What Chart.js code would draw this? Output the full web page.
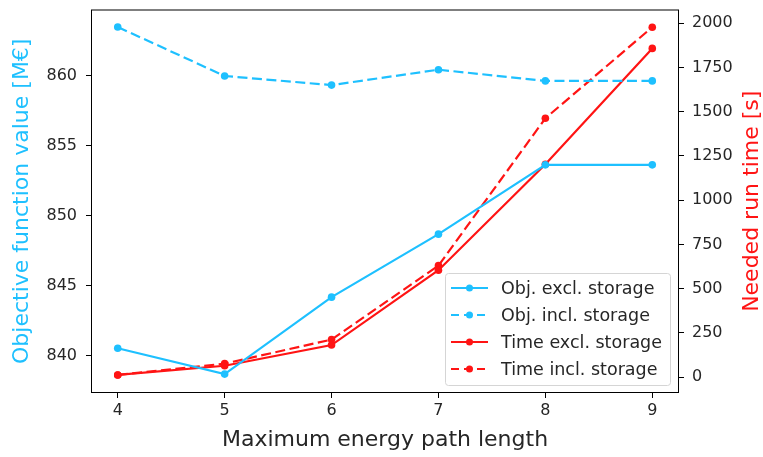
<!DOCTYPE html>
<html>
<head>
<meta charset="utf-8">
<script src="https://cdn.jsdelivr.net/npm/chart.js@4/dist/chart.umd.min.js"></script>
<style>
  html, body { margin: 0; padding: 0; background: #fff; }
  #wrap { width: 763px; height: 457px; }
</style>
</head>
<body>
<div id="wrap"><canvas id="chart" width="763" height="457"></canvas></div>
<script>
// data
var pathLengths = [4, 5, 6, 7, 8, 9];
var objExcl = [840.55, 838.7, 844.2, 848.7, 853.65, 853.65];
var objIncl = [863.5, 860.0, 859.35, 860.45, 859.65, 859.65];
var timeExcl = [12, 64, 181, 604, 1203, 1858];
var timeIncl = [12, 76, 212, 630, 1463, 1978];
var seriesLabels = ['Obj. excl. storage', 'Obj. incl. storage', 'Time excl. storage', 'Time incl. storage'];

var CYAN = '#1ec0ff';
var RED = '#ff1414';
var FONT = "'DejaVu Sans', sans-serif";

function pts(ys) {
    return pathLengths.map(function (x, i) { return { x: x, y: ys[i] }; });
}

function mkSet(label, ys, color, dashed, axis) {
    return {
        label: label,
        data: pts(ys),
        yAxisID: axis,
        borderColor: color,
        backgroundColor: color,
        borderWidth: 2.2,
        borderDash: dashed ? [10, 4.5] : [],
        pointRadius: 3.8,
        pointBorderWidth: 0,
        pointStyle: 'circle',
        tension: 0,
        fill: false
    };
}

// frame around plot, right axis title (bottom-to-top) and legend inside the plot
var decorPlugin = {
    id: 'decor',
    afterDraw: function (chart) {
        var ctx = chart.ctx, a = chart.chartArea;
        ctx.save();
        ctx.strokeStyle = '#000';
        ctx.lineWidth = 1;
        ctx.strokeRect(a.left + 0.5, a.top + 0.5, a.right - a.left - 1, a.bottom - a.top - 1);

        // right axis title
        ctx.fillStyle = RED;
        ctx.font = '22px ' + FONT;
        ctx.textAlign = 'center';
        ctx.textBaseline = 'middle';
        ctx.translate(752, (a.top + a.bottom) / 2);
        ctx.rotate(-Math.PI / 2);
        ctx.fillText('Needed run time [s]', 0, 0);
        ctx.restore();

        // legend
        var ds = chart.data.datasets;
        var bw = 225, bh = 112;
        var bx = a.right - 9 - bw, by = a.bottom - 8 - bh;
        ctx.save();
        ctx.fillStyle = 'rgba(255,255,255,0.85)';
        ctx.strokeStyle = '#d5d5d5';
        ctx.lineWidth = 1;
        ctx.beginPath();
        ctx.roundRect(bx + 0.5, by + 0.5, bw, bh, 3);
        ctx.fill();
        ctx.stroke();
        ctx.font = '17.5px ' + FONT;
        ctx.textAlign = 'left';
        ctx.textBaseline = 'middle';
        for (var i = 0; i < ds.length; i++) {
            var cy = by + 15 + i * 27;
            ctx.strokeStyle = ds[i].borderColor;
            ctx.lineWidth = 2.2;
            ctx.setLineDash(dsDash(ds[i]));
            ctx.beginPath();
            ctx.moveTo(bx + 6, cy);
            ctx.lineTo(bx + 43, cy);
            ctx.stroke();
            ctx.setLineDash([]);
            ctx.fillStyle = ds[i].borderColor;
            ctx.beginPath();
            ctx.arc(bx + 24.5, cy, 3.5, 0, Math.PI * 2);
            ctx.fill();
            ctx.fillStyle = '#262626';
            ctx.fillText(ds[i].label, bx + 56, cy + 1);
        }
        ctx.restore();
    }
};

function dsDash(d) {
    return d.borderDash.length ? [8, 5] : [];
}

function noPad(s) {
    s.paddingTop = 0;
    s.paddingBottom = 0;
}

var tickFont = { family: FONT, size: 16 };

new Chart(document.getElementById('chart'), {
    type: 'line',
    data: {
        datasets: [
            mkSet(seriesLabels[0], objExcl, CYAN, false, 'y'),
            mkSet(seriesLabels[1], objIncl, CYAN, true, 'y'),
            mkSet(seriesLabels[2], timeExcl, RED, false, 'y1'),
            mkSet(seriesLabels[3], timeIncl, RED, true, 'y1')
        ]
    },
    options: {
        responsive: false,
        animation: false,
        layout: { padding: { top: 9.5, left: 0, right: 0, bottom: 0 } },
        plugins: {
            legend: { display: false },
            tooltip: { enabled: false }
        },
        scales: {
            x: {
                type: 'linear',
                min: 3.75,
                max: 9.25,
                afterFit: function (s) { s.height = 64; s.paddingLeft = 0; s.paddingRight = 0; },
                grid: { drawOnChartArea: false, drawTicks: true, tickLength: 5, color: '#000' },
                border: { display: false },
                ticks: { stepSize: 1, includeBounds: false, color: '#262626', font: tickFont, padding: 3, maxRotation: 0 },
                title: { display: true, text: 'Maximum energy path length', color: '#262626', font: { family: FONT, size: 22 }, padding: { top: 0, bottom: 4 } }
            },
            y: {
                position: 'left',
                min: 837.35,
                max: 864.75,
                afterFit: function (s) { s.width = 91; noPad(s); },
                grid: { drawOnChartArea: false, drawTicks: true, tickLength: 5, color: '#000' },
                border: { display: false },
                ticks: { stepSize: 5, includeBounds: false, color: '#262626', font: tickFont, padding: 9 },
                title: { display: true, text: 'Objective function value [M€]', color: CYAN, font: { family: FONT, size: 22 }, padding: { top: 9, bottom: 0 } }
            },
            y1: {
                position: 'right',
                min: -90,
                max: 2078,
                afterFit: function (s) { s.width = 84; noPad(s); },
                grid: { drawOnChartArea: false, drawTicks: true, tickLength: 5, color: '#000' },
                border: { display: false },
                ticks: {
                    stepSize: 250, includeBounds: false, color: '#262626', font: tickFont, padding: 8,
                    callback: function (v) { return String(v); }
                }
            }
        }
    },
    plugins: [decorPlugin]
});
</script>
</body>
</html>
